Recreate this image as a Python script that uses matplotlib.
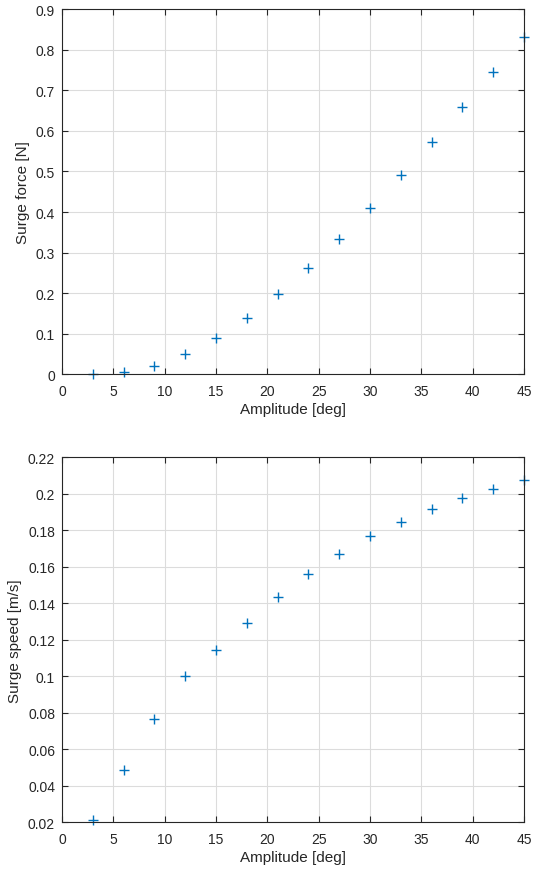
import numpy as np
import matplotlib.pyplot as plt

plt.rcParams['font.family'] = ['Liberation Sans', 'DejaVu Sans']
plt.rcParams['font.size'] = 10

amplitude = [3, 6, 9, 12, 15, 18, 21, 24, 27, 30, 33, 36, 39, 42, 45]
surge_force = [0.0, 0.007, 0.022, 0.050, 0.089, 0.138, 0.197, 0.262, 0.333,
               0.410, 0.491, 0.572, 0.658, 0.744, 0.831]
surge_speed = [0.0214, 0.0488, 0.0765, 0.100, 0.1143, 0.1293, 0.1432, 0.156,
               0.1672, 0.1767, 0.1847, 0.1917, 0.1975, 0.2028, 0.2077]

blue = '#0072BD'
txt = '#262626'

fig = plt.figure(figsize=(5.43, 8.7), dpi=100)

def style(ax):
    ax.grid(True, color='#dcdcdc', linewidth=0.8)
    ax.set_axisbelow(True)
    ax.tick_params(direction='in', length=4, width=0.8, top=True, right=True,
                   colors=txt, labelcolor=txt, labelsize=10)
    ax.tick_params(axis='x', pad=7)
    ax.tick_params(axis='y', pad=5)
    for s in ax.spines.values():
        s.set_color(txt)
        s.set_linewidth(0.8)
    ax.set_xlim(0, 45)
    ax.set_xticks(np.arange(0, 46, 5))

ax1 = fig.add_axes([0.1142, 0.5684, 0.851, 0.4201])
ax1.plot(amplitude, surge_force, '+', color=blue, markersize=7, markeredgewidth=1.0, clip_on=False)
style(ax1)
ax1.set_ylim(0, 0.9)
ax1.set_yticks(np.arange(0, 0.91, 0.1))
ax1.set_yticklabels(['0', '0.1', '0.2', '0.3', '0.4', '0.5', '0.6', '0.7', '0.8', '0.9'])
ax1.set_xlabel('Amplitude [deg]', color=txt, fontsize=11, labelpad=3)
ax1.set_ylabel('Surge force [N]', color=txt, fontsize=11)

ax2 = fig.add_axes([0.1142, 0.0537, 0.851, 0.4195])
ax2.plot(amplitude, surge_speed, '+', color=blue, markersize=7, markeredgewidth=1.0, clip_on=False)
style(ax2)
ax2.set_ylim(0.02, 0.22)
yt = np.arange(0.02, 0.2201, 0.02)
ax2.set_yticks(yt)
ax2.set_yticklabels(['0.02', '0.04', '0.06', '0.08', '0.1', '0.12', '0.14',
                     '0.16', '0.18', '0.2', '0.22'])
ax2.set_xlabel('Amplitude [deg]', color=txt, fontsize=11, labelpad=3)
ax2.set_ylabel('Surge speed [m/s]', color=txt, fontsize=11)

fig.savefig('out.png', dpi=100)
